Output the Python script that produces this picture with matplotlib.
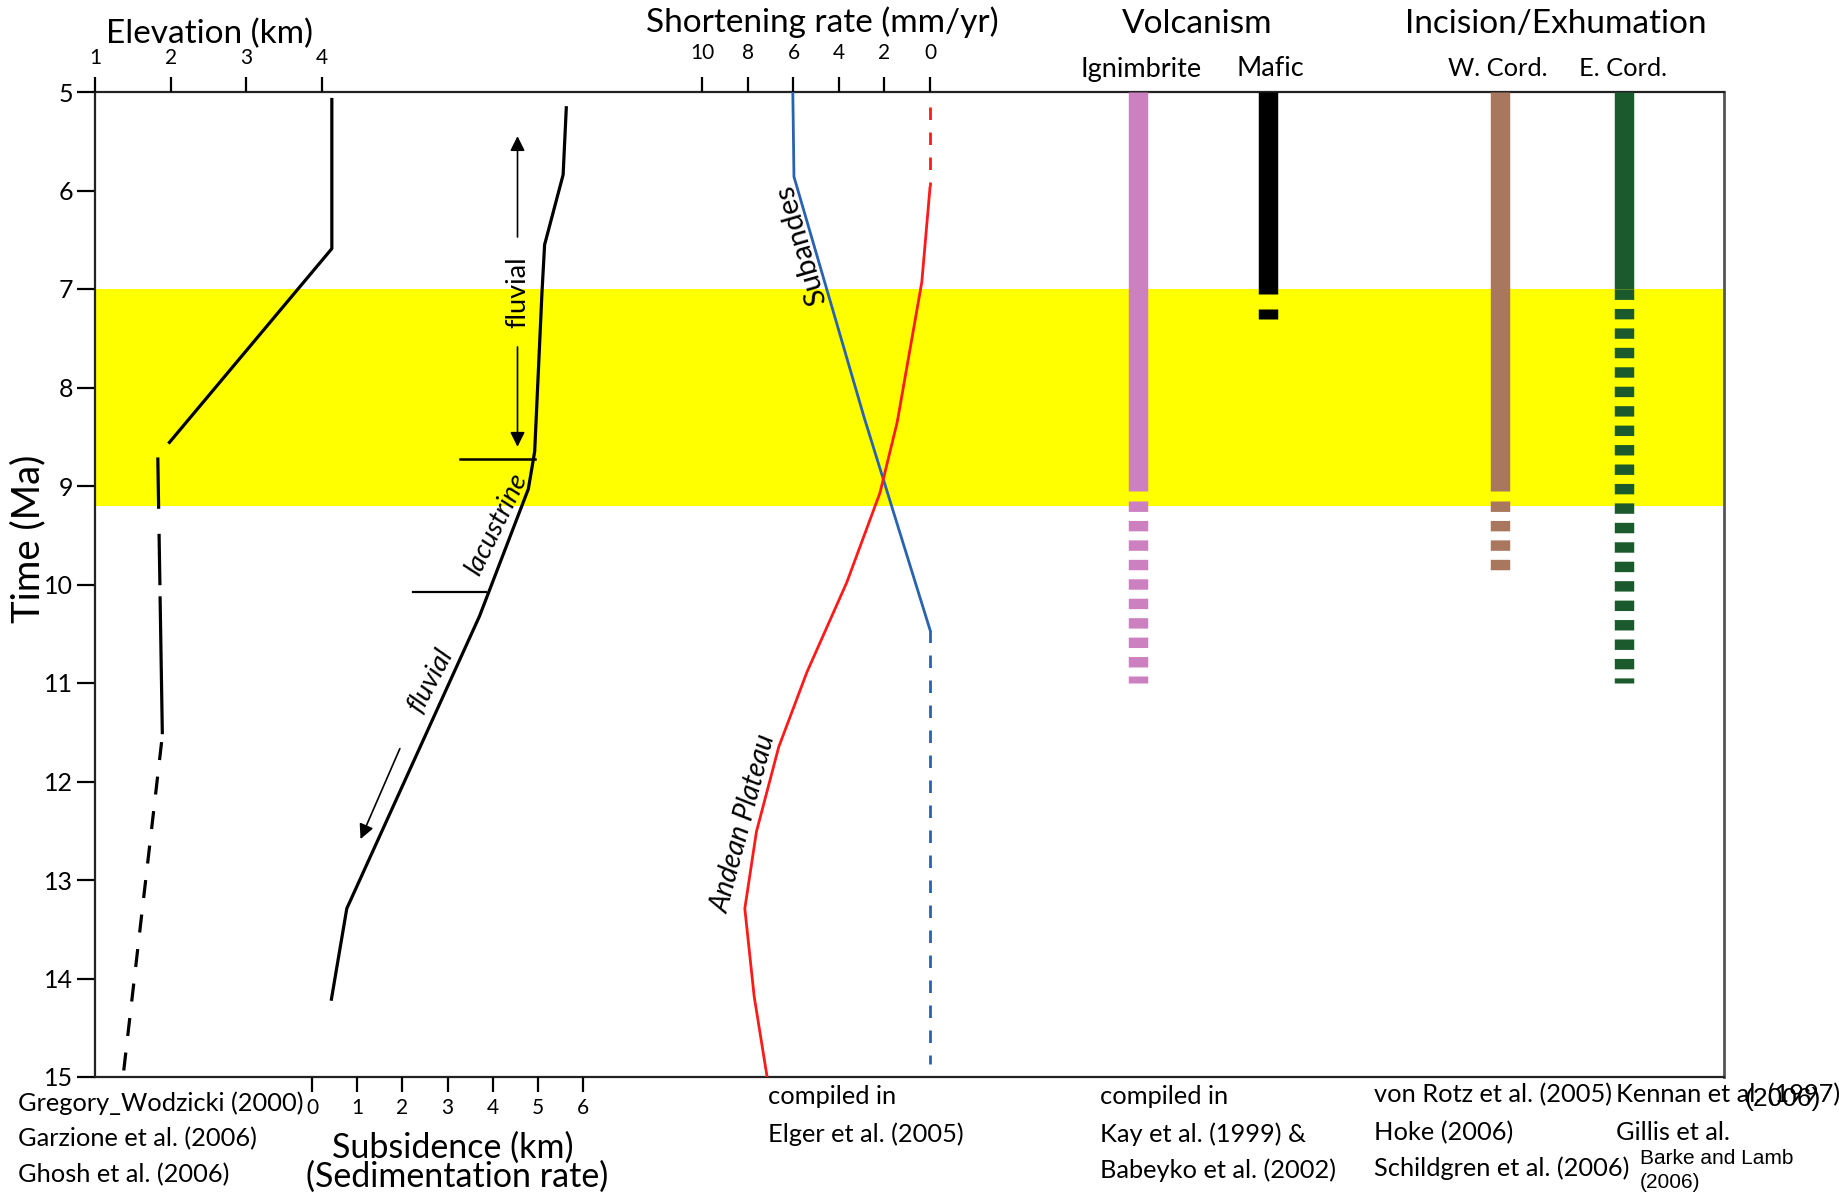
import matplotlib
matplotlib.use("Agg")
import matplotlib.pyplot as plt

plt.rcParams['font.family'] = ['Lato', 'DejaVu Sans']
plt.rcParams['lines.scale_dashes'] = False

# ---------------- data ----------------
time_ticks = [5, 6, 7, 8, 9, 10, 11, 12, 13, 14, 15]
elev_ticks = [1, 2, 3, 4]
rate_ticks = [10, 8, 6, 4, 2, 0]
sub_ticks = [0, 1, 2, 3, 4, 5, 6]

band_ma = (7.0, 9.2)

# elevation (km) vs time (Ma)
elev_solid_t = [5.06, 6.59, 8.57]
elev_solid_km = [4.13, 4.13, 1.97]
elev_dash1_t = [8.71, 10.10]
elev_dash1_km = [1.83, 1.86]
elev_mid_t = [10.12, 11.52]
elev_mid_km = [1.86, 1.89]
elev_dash2_t = [11.60, 15.00]
elev_dash2_km = [1.88, 1.37]

# subsidence (km) vs time (Ma)
sub_t = [5.16, 5.84, 6.55, 7.05, 8.65, 9.03, 10.32, 13.29, 14.21]
sub_km = [5.63, 5.56, 5.15, 5.09, 4.93, 4.79, 3.71, 0.77, 0.43]

# shortening rate (mm/yr) vs time (Ma)
subandes_t = [5.00, 5.86, 8.30, 10.46]
subandes_rate = [6.03, 5.98, 2.90, 0.00]
subandes_dash_t = [10.46, 14.87]
subandes_dash_rate = [0.0, 0.0]

plateau_dash_t = [5.15, 5.95]
plateau_dash_rate = [0.0, 0.0]
plateau_t = [5.97, 6.93, 8.35, 9.07, 9.98, 10.89, 11.65, 12.51, 13.29, 14.18, 15.00]
plateau_rate = [0.00, 0.36, 1.44, 2.20, 3.66, 5.41, 6.65, 7.63, 8.14, 7.73, 7.16]

# volcanism / incision intervals: solid span and dashed span (Ma)
column_names = ["Ignimbrite", "Mafic", "W. Cord.", "E. Cord."]
column_solid = [(5.0, 9.05), (5.0, 7.05), (5.0, 9.05), (5.0, 7.0)]
column_dashed = [(9.15, 11.0), (7.2, 7.3), (9.15, 9.9), (7.0, 11.0)]
column_colors = ["#cc80c0", "#000000", "#a8775e", "#1b5a2c"]

# ---------------- layout helpers ----------------
W, H = 1839, 1193
fig = plt.figure(figsize=(W / 100, H / 100), dpi=100)


def fx(px):
    return px / W


def fy(py):
    return 1 - py / H


L, R, T, B = 95, 1724, 92, 1077
rect = [fx(L), fy(B), (R - L) / W, (B - T) / H]


def xlim_for(v0, p0, v1, p1):
    s = (v1 - v0) / (p1 - p0)
    return (v0 + (L - p0) * s, v0 + (R - p0) * s)


ax = fig.add_axes(rect)
ax.set_xlim(0, 1)
ax.set_ylim(15, 5)
ax.set_yticks(time_ticks)
ax.set_xticks([])
ax.tick_params(axis='y', direction='out', length=13, width=1.6, labelsize=18, pad=3)
for s in ax.spines.values():
    s.set_linewidth(1.6)
    s.set_color('#222222')
ax.spines['right'].set_color('#555555')
ax.spines['right'].set_linewidth(2.0)
ax.axhspan(band_ma[0], band_ma[1], color='#ffff00', zorder=0, lw=0)

# elevation panel
ax_e = fig.add_axes(rect, frameon=False)
ax_e.set_ylim(15, 5)
ax_e.set_xlim(*xlim_for(1, 95, 4, 322))
ax_e.set_yticks([])
ax_e.xaxis.tick_top()
ax_e.set_xticks(elev_ticks)
ax_e.tick_params(axis='x', direction='out', length=11, width=1.6, labelsize=15, pad=6)
lw = 2.3
ax_e.plot(elev_solid_km, elev_solid_t, color='black', lw=lw, solid_capstyle='butt')
ax_e.plot(elev_dash1_km, elev_dash1_t, color='black', lw=lw, dashes=(37, 18), dash_capstyle='butt')
ax_e.plot(elev_mid_km, elev_mid_t, color='black', lw=lw, solid_capstyle='butt')
ax_e.plot(elev_dash2_km, elev_dash2_t, color='black', lw=lw, dashes=(13, 12), dash_capstyle='butt')

# subsidence panel
ax_s = fig.add_axes(rect, frameon=False)
ax_s.set_ylim(15, 5)
ax_s.set_xlim(*xlim_for(0, 312, 6, 583))
ax_s.set_yticks([])
ax_s.set_xticks(sub_ticks)
ax_s.tick_params(axis='x', direction='out', length=11, width=1.6, labelsize=15, pad=4)
ax_s.plot(sub_km, sub_t, color='black', lw=lw)
ax_s.plot([3.27, 4.93], [8.73, 8.73], color='black', lw=1.8)
ax_s.plot([2.23, 3.85], [10.08, 10.08], color='black', lw=1.6)
# depositional environment arrows
ax_s.annotate("", xy=(4.55, 5.42), xytext=(4.55, 6.5),
              arrowprops=dict(arrowstyle='-|>', color='black', lw=1.2, mutation_scale=22))
ax_s.annotate("", xy=(4.55, 8.63), xytext=(4.55, 7.56),
              arrowprops=dict(arrowstyle='-|>', color='black', lw=1.2, mutation_scale=22))
ax_s.annotate("", xy=(1.05, 12.61), xytext=(1.97, 11.64),
              arrowprops=dict(arrowstyle='-|>', color='black', lw=1.2, mutation_scale=22))
ax_s.text(4.55, 7.03, "fluvial", rotation=90, ha='center', va='center', fontsize=19.5)
ax_s.text(4.08, 9.39, "lacustrine", rotation=64, ha='center', va='center', fontsize=19.5, style='italic')
ax_s.text(2.62, 10.97, "fluvial", rotation=62, ha='center', va='center', fontsize=19.5, style='italic')

# shortening-rate panel
ax_r = fig.add_axes(rect, frameon=False)
ax_r.set_ylim(15, 5)
ax_r.set_xlim(*xlim_for(0, 930, 10, 702.5))
ax_r.set_yticks([])
ax_r.xaxis.tick_top()
ax_r.set_xticks(rate_ticks)
ax_r.tick_params(axis='x', direction='out', length=11, width=1.6, labelsize=15, pad=10)
blue, red = '#2862b0', '#ff1a1a'
ax_r.plot(subandes_rate, subandes_t, color=blue, lw=2.0)
ax_r.plot(subandes_dash_rate, subandes_dash_t, color=blue, lw=2.0, dashes=(9, 9))
ax_r.plot(plateau_rate, plateau_t, color=red, lw=2.0)
ax_r.plot(plateau_dash_rate, plateau_dash_t, color=red, lw=2.0, dashes=(9, 9))
ax_r.text(5.65, 6.55, "Subandes", rotation=106, ha='center', va='center', fontsize=21)
ax_r.text(8.2, 12.42, "Andean Plateau", rotation=75, ha='center', va='center', fontsize=20, style='italic')

# volcanism and incision columns
column_x = [0.640, 0.720, 0.8625, 0.9386]
col_lw = 14
for xc, (s0, s1), (d0, d1), c in zip(column_x, column_solid, column_dashed, column_colors):
    ax.plot([xc, xc], [s0, s1], color=c, lw=col_lw, solid_capstyle='butt', zorder=3)
    ax.plot([xc, xc], [d0, d1], color=c, lw=col_lw, dashes=(7.5, 6.5), dash_capstyle='butt', zorder=3)


# ---------------- headings ----------------
def t(px, py, s, size, **kw):
    fig.text(fx(px), fy(py), s, fontsize=size, **kw)


t(28, 539, "Time (Ma)", 27.5, ha='center', va='center', rotation=90)
t(209, 34, "Elevation (km)", 24, ha='center', va='center')
t(822, 22, "Shortening rate (mm/yr)", 24, ha='center', va='center')
t(1197, 24, "Volcanism", 24, ha='center', va='center')
t(1556, 24, "Incision/Exhumation", 24, ha='center', va='center')
for name, xc, size in zip(column_names, [1141, 1270, 1498, 1623], [19.5, 19.5, 18.3, 18.3]):
    t(xc, 69, name, size, ha='center', va='center')

# ---------------- sources ----------------
ref = 18.3
t(18, 1103, "Gregory_Wodzicki (2000)", ref, va='center')
t(18, 1139, "Garzione et al. (2006)", ref, va='center')
t(18, 1175, "Ghosh et al. (2006)", ref, va='center')
t(453, 1148, "Subsidence (km)", 24.5, ha='center', va='center')
t(457, 1177, "(Sedimentation rate)", 24.5, ha='center', va='center')
t(768, 1097, "compiled in", ref, va='center')
t(768, 1134, "Elger et al. (2005)", ref, va='center')
t(1100, 1097, "compiled in", ref, va='center')
t(1100, 1134, "Kay et al. (1999) &", ref, va='center')
t(1100, 1170, "Babeyko et al. (2002)", ref, va='center')
t(1374, 1095, "von Rotz et al. (2005)", ref, va='center')
t(1374, 1133, "Hoke (2006)", ref, va='center')
t(1374, 1168, "Schildgren et al. (2006)", ref, va='center')
t(1616, 1095, "Kennan et al. (1997)", ref, va='center')
t(1616, 1132, "Gillis et al.", ref, va='center')
t(1744, 1099, "(2006)", 19, va='center', family='Liberation Sans')
t(1640, 1159, "Barke and Lamb", 15, va='center', family='Liberation Sans')
t(1640, 1183, "(2006)", 15, va='center', family='Liberation Sans')

fig.savefig("out.png", dpi=100)
